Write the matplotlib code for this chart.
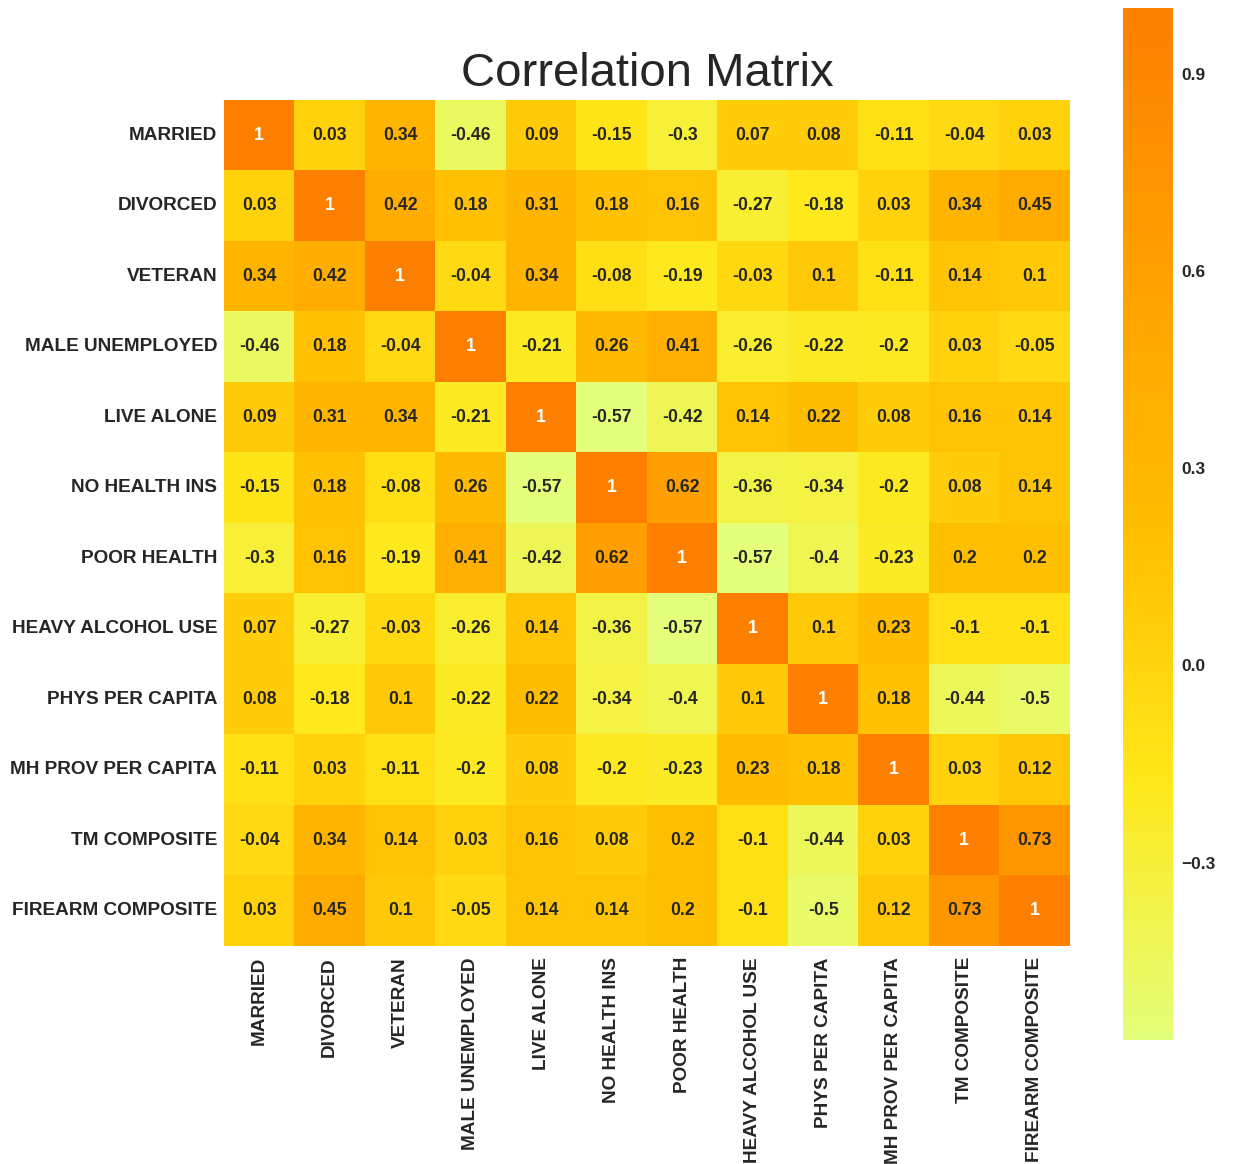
import numpy as np
import pandas as pd
import matplotlib
matplotlib.use('Agg')
import matplotlib.pyplot as plt
import seaborn as sns

sns.set_style('white')
plt.rcParams['font.family'] = ['Liberation Sans', 'DejaVu Sans']

variables = ['MARRIED', 'DIVORCED', 'VETERAN', 'MALE UNEMPLOYED', 'LIVE ALONE',
             'NO HEALTH INS', 'POOR HEALTH', 'HEAVY ALCOHOL USE', 'PHYS PER CAPITA',
             'MH PROV PER CAPITA', 'TM COMPOSITE', 'FIREARM COMPOSITE']

married = [1, 0.03, 0.34, -0.46, 0.09, -0.15, -0.3, 0.07, 0.08, -0.11, -0.04, 0.03]
divorced = [0.03, 1, 0.42, 0.18, 0.31, 0.18, 0.16, -0.27, -0.18, 0.03, 0.34, 0.45]
veteran = [0.34, 0.42, 1, -0.04, 0.34, -0.08, -0.19, -0.03, 0.1, -0.11, 0.14, 0.1]
male_unemployed = [-0.46, 0.18, -0.04, 1, -0.21, 0.26, 0.41, -0.26, -0.22, -0.2, 0.03, -0.05]
live_alone = [0.09, 0.31, 0.34, -0.21, 1, -0.57, -0.42, 0.14, 0.22, 0.08, 0.16, 0.14]
no_health_ins = [-0.15, 0.18, -0.08, 0.26, -0.57, 1, 0.62, -0.36, -0.34, -0.2, 0.08, 0.14]
poor_health = [-0.3, 0.16, -0.19, 0.41, -0.42, 0.62, 1, -0.57, -0.4, -0.23, 0.2, 0.2]
heavy_alcohol = [0.07, -0.27, -0.03, -0.26, 0.14, -0.36, -0.57, 1, 0.1, 0.23, -0.1, -0.1]
phys_per_capita = [0.08, -0.18, 0.1, -0.22, 0.22, -0.34, -0.4, 0.1, 1, 0.18, -0.44, -0.5]
mh_prov_per_capita = [-0.11, 0.03, -0.11, -0.2, 0.08, -0.2, -0.23, 0.23, 0.18, 1, 0.03, 0.12]
tm_composite = [-0.04, 0.34, 0.14, 0.03, 0.16, 0.08, 0.2, -0.1, -0.44, 0.03, 1, 0.73]
firearm_composite = [0.03, 0.45, 0.1, -0.05, 0.14, 0.14, 0.2, -0.1, -0.5, 0.12, 0.73, 1]

cbar_ticks = [-0.3, 0.0, 0.3, 0.6, 0.9]

corr = pd.DataFrame([married, divorced, veteran, male_unemployed, live_alone,
                     no_health_ins, poor_health, heavy_alcohol, phys_per_capita,
                     mh_prov_per_capita, tm_composite, firearm_composite],
                    index=variables, columns=variables)

fig = plt.figure(figsize=(12.34, 11.64), dpi=100)
ax = fig.add_axes([0.1815, 0.1873, 0.6856, 0.7268])
cax = fig.add_axes([0.910, 0.1065, 0.0405, 0.8866])

sns.heatmap(corr, ax=ax, cbar_ax=cax, cmap='Wistia', annot=True,
            annot_kws={'size': 12.7, 'weight': 'bold'},
            vmin=corr.values.min(), vmax=corr.values.max(),
            cbar_kws={'ticks': cbar_ticks})

ax.set_title('Correlation Matrix', fontsize=34, pad=10)
ax.tick_params(axis='x', pad=8, length=0)
ax.tick_params(axis='y', pad=5, length=0)
for lbl in ax.get_xticklabels():
    lbl.set_rotation(90)
    lbl.set_fontsize(13.7)
    lbl.set_fontweight('bold')
for lbl in ax.get_yticklabels():
    lbl.set_rotation(0)
    lbl.set_fontsize(13.7)
    lbl.set_fontweight('bold')

cax.tick_params(length=0, pad=6)
for lbl in cax.get_yticklabels():
    lbl.set_fontsize(12.5)
    lbl.set_fontweight('bold')

fig.savefig('out.png', dpi=100)
